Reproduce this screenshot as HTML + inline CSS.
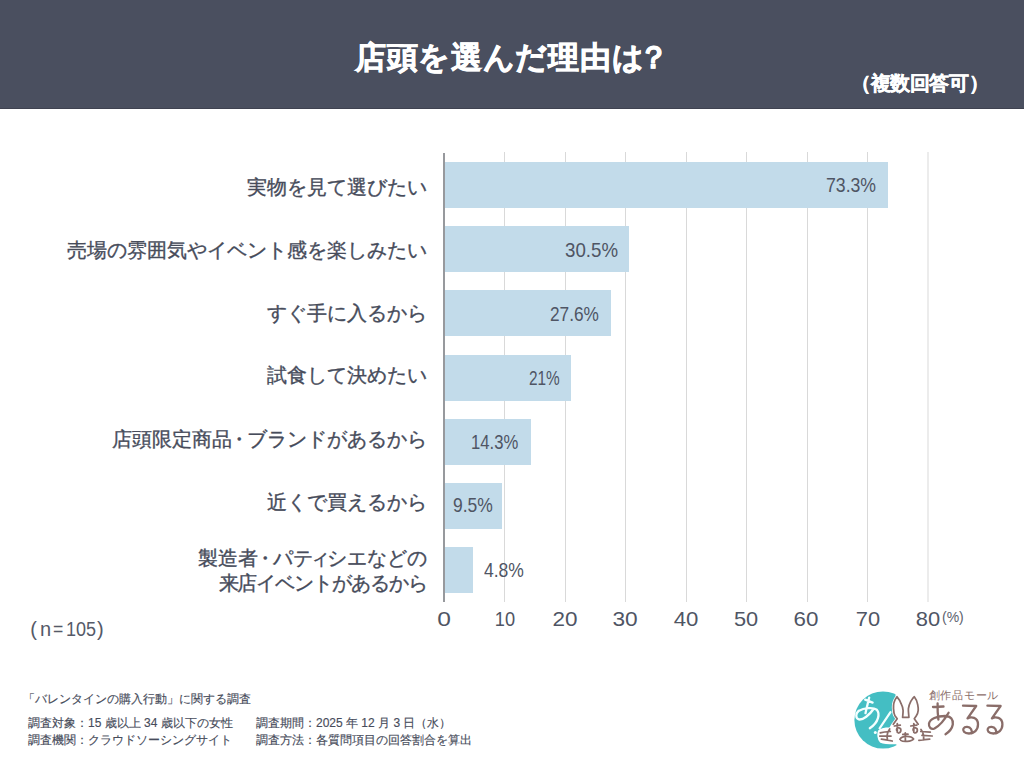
<!DOCTYPE html>
<html lang="ja">
<head>
<meta charset="utf-8">
<style>
*{margin:0;padding:0;box-sizing:border-box}
html,body{width:1024px;height:768px;overflow:hidden;background:#fff}
body{position:relative;font-family:"Liberation Sans",sans-serif;color:#474c5b}
.hdr{position:absolute;left:0;top:0;width:1024px;height:109px;background:#4a4f5f;border-bottom:1px solid #3f4250}
.title{position:absolute;left:355px;top:41.5px;-webkit-text-stroke:0.7px #fff;color:#fff;font-weight:bold;font-size:31px;line-height:31px;letter-spacing:0.7px;white-space:nowrap}
.sub{position:absolute;left:851px;top:72.8px;letter-spacing:-0.4px;-webkit-text-stroke:0.4px #fff;color:#fff;font-weight:bold;font-size:20px;line-height:20px;white-space:nowrap}
.grid{position:absolute;top:152px;height:450px;width:1px;background:#d9d9d9}
.axis{position:absolute;left:443px;top:153px;height:449px;width:2px;background:#97999d}
.bar{position:absolute;left:443px;height:46px;background:#c2dbea}
.lbl{position:absolute;right:597.5px;font-size:20px;line-height:25px;-webkit-text-stroke:0.35px #474c5b;white-space:nowrap;text-align:right;color:#474c5b}
.dot{margin:0 -2.5px}
.val{position:absolute;font-size:21px;line-height:30px;white-space:nowrap;color:#4f5564;transform-origin:0 0}
.tick{position:absolute;top:603.7px;font-size:21px;line-height:30px;width:60px;margin-left:-30px;text-align:center;color:#4f5564}
.ch{position:absolute;font-size:20px;line-height:30px;top:613.7px;color:#555a68;white-space:nowrap;transform-origin:0 0}
.foot{position:absolute;font-size:12px;line-height:16px;-webkit-text-stroke:0.15px #474c5b;white-space:nowrap;color:#474c5b}
</style>
</head>
<body>
<div class="hdr"></div>
<div class="title">店頭を選んだ理由は<span style="margin-left:-6px">？</span></div>
<div class="sub">（複数回答可）</div>

<div class="grid" style="left:504px"></div>
<div class="grid" style="left:565px"></div>
<div class="grid" style="left:625px"></div>
<div class="grid" style="left:686px"></div>
<div class="grid" style="left:746px"></div>
<div class="grid" style="left:807px"></div>
<div class="grid" style="left:867px"></div>
<div class="grid" style="left:927px;width:2px;background:#ececec"></div>
<div class="bar" style="top:162px;width:444.7px"></div>
<div class="bar" style="top:226px;width:185.6px"></div>
<div class="bar" style="top:290px;width:168.2px"></div>
<div class="bar" style="top:355px;width:128.3px"></div>
<div class="bar" style="top:419px;width:87.8px"></div>
<div class="bar" style="top:483px;width:58.9px"></div>
<div class="bar" style="top:547px;width:29.8px"></div>
<div class="axis"></div>
<div class="lbl" style="top:174.6px">実物を見て選びたい</div>
<div class="lbl" style="top:237.6px">売場の雰囲気やイベント感を楽しみたい</div>
<div class="lbl" style="top:300.8px">すぐ手に入るから</div>
<div class="lbl" style="top:363px">試食して決めたい</div>
<div class="lbl" style="top:426.8px">店頭限定商品<span class="dot">・</span>ブランドがあるから</div>
<div class="lbl" style="top:489.6px">近くで買えるから</div>
<div class="lbl" style="top:545.5px;line-height:25.5px">製造者<span class="dot">・</span>パテ<span style="margin:0 -3px">ィ</span>シエなどの<br><span style="letter-spacing:-1.1px">来店イベントがあるから</span></div>
<div class="val" style="left:825.8px;top:170px;transform:scaleX(0.841)">73.3%</div>
<div class="val" style="left:565.0px;top:234.5px;transform:scaleX(0.89)">30.5%</div>
<div class="val" style="left:549.9px;top:298.5px;transform:scaleX(0.821)">27.6%</div>
<div class="val" style="left:529.3px;top:363px;transform:scaleX(0.733)">21%</div>
<div class="val" style="left:471.4px;top:426.5px;transform:scaleX(0.793)">14.3%</div>
<div class="val" style="left:452.5px;top:490px;transform:scaleX(0.833)">9.5%</div>
<div class="val" style="left:483.8px;top:555px;transform:scaleX(0.834)">4.8%</div>
<div class="tick" style="left:444.2px;transform:scaleX(1.17)">0</div>
<div class="tick" style="left:504.5px;transform:scaleX(0.867)">10</div>
<div class="tick" style="left:564.8px;transform:scaleX(1.07)">20</div>
<div class="tick" style="left:625.3px;transform:scaleX(1.08)">30</div>
<div class="tick" style="left:685.9px;transform:scaleX(1.057)">40</div>
<div class="tick" style="left:746.4px;transform:scaleX(1.036)">50</div>
<div class="tick" style="left:806.4px;transform:scaleX(1.064)">60</div>
<div class="tick" style="left:867.7px;transform:scaleX(1.04)">70</div>
<div class="tick" style="left:927.5px;transform:scaleX(1.045)">80</div>
<div style="position:absolute;left:942px;top:602px;font-size:14px;line-height:30px;color:#5d626e">(%)</div>
<div class="ch" style="left:30.2px">(</div><div class="ch" style="left:40px">n</div><div class="ch" style="left:52.7px;transform:scaleX(0.88)">=</div><div class="ch" style="left:66px;transform:scaleX(0.9)">105</div><div class="ch" style="left:97px">)</div>

<div class="foot" style="left:22.5px;top:691px">「バレンタインの購入行動」に関する調査</div>
<div class="foot" style="left:28px;top:715px">調査対象：15 歳以上 34 歳以下の女性</div>
<div class="foot" style="left:28px;top:732px">調査機関：クラウドソーシングサイト</div>
<div class="foot" style="left:256px;top:715px">調査期間：2025 年 12 月 3 日（水）</div>
<div class="foot" style="left:256px;top:732px">調査方法：各質問項目の回答割合を算出</div>
<svg style="position:absolute;left:850px;top:685px" width="160" height="70" viewBox="0 0 160 70">
<circle cx="33" cy="35" r="28.6" fill="#44bec3"/>
<g fill="none" stroke="#f4ffff" stroke-width="2.3" stroke-linecap="round" stroke-linejoin="round">
<path d="M15.2,14.6 L22.6,17.6 M19.2,12.6 C18,18 16.5,23 15.5,28.2 M8.5,26 C14,23 23,22 26.8,24.8 C30,28.5 29,37 19.8,43.2 M8.5,26 C5.5,28.5 5.5,33.5 8.8,34.4 C13,35.2 19.5,30 23.5,24"/>
<path d="M40.5,27.2 L29.6,43.3" stroke-width="2.2"/>
</g>
<circle cx="25.3" cy="47.4" r="1.5" fill="#f4ffff"/>
<path d="M47,11.8 C44.5,15 43.2,20 43.5,23.6 C43.7,27 44,29 44.8,30.4 L47.2,33.8 L43.3,39.2 L40.5,43.8 C36,44 31,44.5 29.6,46.3 C28.4,48.5 28.8,54.5 31,56.2 C35,57.8 41,57.6 46.5,57.6 L55,64 L86,64 L86,0 L48,0 Z" fill="#fff" stroke="#fff" stroke-width="3.2" stroke-linejoin="round"/>
<g fill="none" stroke="#8a6d69" stroke-width="1.75" stroke-linecap="round" stroke-linejoin="round">
<path d="M43.3,39.2 L47.2,33.8 L44.8,30.4 C44,29 43.7,27 43.5,23.6 C43.2,20 44.5,15 47,11.8 C49,14 50.5,16.5 51.1,18.7 C52.3,21 53.1,23.5 53.1,25.5 C53.1,28 52.8,30 52.6,32.3 L58.9,32.3 C58.7,29 58.2,26 58.4,23.6 C58.8,20.5 60,18 60.9,16.2 C62,14.5 63,12.8 64.3,11.8 C66,14 67.3,17 67.7,19.6 C68.2,22 68.3,24 68.2,25.5 C68,28 67.2,29.5 66.2,30.9 L64.3,33.8 L68.2,39.2"/>
<path d="M47.3,38.5 L47.3,47.3 M44.3,41 L50.3,40.2 M47.3,46.5 C45.5,44 47,42.6 49,42.8 C51.5,43.2 51.6,47.5 48.5,48"/>
<path d="M63.8,38.5 L63.8,47.3 M60.8,41 L66.8,40.2 M63.8,46.5 C62,44 63.5,42.6 65.5,42.8 C68,43.2 68.1,47.5 65,48"/>
<path d="M52.8,49.4 L58,49.2 M55.3,47.8 L55.4,55.4 M49.9,54.3 C51.5,50.5 61,50.2 63.6,54 C61.5,56.8 53,57 50.8,55.4"/>
<path d="M30.2,47.8 C33,47 37,46.6 40.3,46.5 M29.8,51 L41,51 M31.4,54.1 C35,54.6 39,55.2 42.2,56 M39.7,44 C37.5,47 36.5,51 37.5,55"/>
<path d="M70.8,46.5 L80.3,47.1 M72,50.3 L82.2,51 M68.9,55.4 C72,55 76,54.5 79.7,54.1 M71,44.5 C73,47 74,51 73.5,55"/>
</g>
<text x="78.5" y="14.3" font-family="Liberation Sans, sans-serif" font-size="10.5" letter-spacing="0.75" fill="#8a6d69">創作品モール</text>
<g fill="none" stroke="#8a6d69" stroke-width="2.3" stroke-linecap="round" stroke-linejoin="round">
<path d="M83,22 L93.5,21.5 M87.6,18.5 Q87.4,27 88.4,34.5 M98.6,27.7 C95,34 89,41 84.5,43.5 C81,45 78.5,42 79,38.5 C80,34 87,31 95,31 C101,31 103.5,35 102.8,39.5 C102,44 99,47 95.5,49.2"/>
<path d="M113,20.7 L126.2,21 L117.5,33.4 C121,31.5 128,32 128,39.5 C128,45 124,48.5 119,48.5 C114,48.5 112.5,45.5 113.5,43.5 C115,41 119.5,41.5 121,44 C122,46 122,47.5 121.8,48.3"/>
<path transform="translate(24.4,0)" d="M113,20.7 L126.2,21 L117.5,33.4 C121,31.5 128,32 128,39.5 C128,45 124,48.5 119,48.5 C114,48.5 112.5,45.5 113.5,43.5 C115,41 119.5,41.5 121,44 C122,46 122,47.5 121.8,48.3"/>
</g>
</svg>

</body>
</html>
